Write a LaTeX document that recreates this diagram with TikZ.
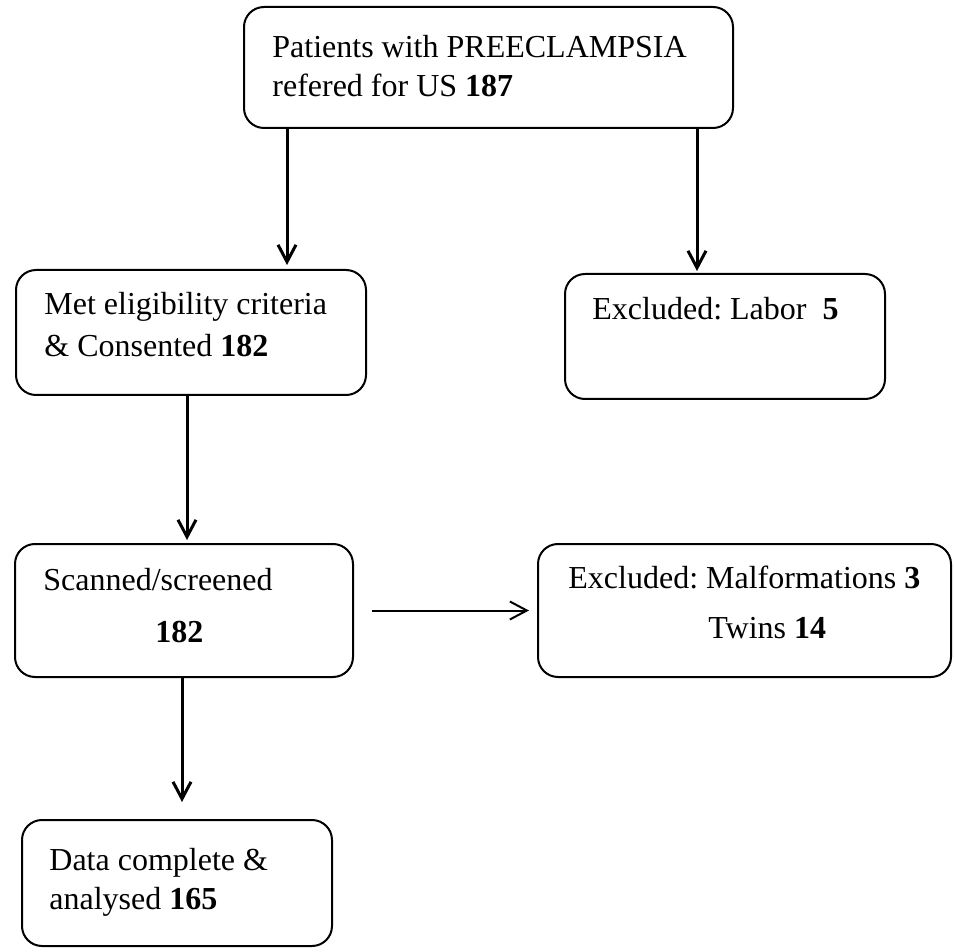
\documentclass[tikz,border=0pt]{standalone}
\usepackage{fontspec}
\setmainfont{Liberation Serif}
\frenchspacing
\usetikzlibrary{arrows.meta,fit}
\begin{document}
\begin{tikzpicture} [
  x=0.5pt, y=-0.5pt,
  box/.style= {draw,rounded corners=10pt,line width=1pt,inner sep=0},
  txt/.style= {anchor=base west,inner sep=0,font=\fontsize{16}{20}\selectfont},
  main arrow/.style= {-{Straight Barb[length=8.5pt,width=9pt]},line width=1.5pt},
  side arrow/.style= {-{Straight Barb[length=8.5pt,width=9pt]},line width=1pt},
]
\useasboundingbox (0,0) rectangle (954,952);

\node (pat) [box,fit={(244,7) (733,128)}] {};
\node (elig) [box,fit={(16,270) (366,395)}] {};
\node (labor) [box,fit={(565,274) (885,399)}] {};
\node (scan) [box,fit={(15,544) (353,677)}] {};
\node (malf) [box,fit={(538,544) (951,677)}] {};
\node (data) [box,fit={(22,820) (332,946)}] {};

\node (pat1) [txt] at (272,58) {Patients with PREECLAMPSIA};
\node (pat2) [txt] at (272,97) {refered for US \textbf{187}};
\node (elig1) [txt] at (44,315) {Met eligibility criteria};
\node (elig2) [txt] at (44,357) {\& Consented \textbf{182}};
\node (labor1) [txt] at (592,320) {Excluded: Labor\ \ \textbf{5}};
\node (scan1) [txt] at (43,590) {Scanned/screened};
\node (scan2) [txt] at (155,642) {\textbf{182}};
\node (malf1) [txt] at (568,588) {Excluded: Malformations \textbf{3}};
\node (malf2) [txt] at (708,638) {Twins \textbf{14}};
\node (data1) [txt] at (49,870) {Data complete \&};
\node (data2) [txt] at (49,909) {analysed \textbf{165}};

\coordinate (c1) at (287,0);
\coordinate (c2) at (697,0);
\coordinate (c3) at (187,0);
\coordinate (c5) at (182,0);
\draw [main arrow,shorten >=2pt] (pat.south -| c1) -- (elig.north -| c1);
\draw [main arrow,shorten >=1pt] (pat.south -| c2) -- (labor.north -| c2);
\draw [main arrow,shorten >=1.5pt] (elig.south -| c3) -- (scan.north -| c3);
\draw [side arrow,shorten <=9pt,shorten >=4pt] (scan.east) -- (malf.west);
\draw [main arrow,shorten >=8.5pt] (scan.south -| c5) -- (data.north -| c5);

\end{tikzpicture}
\end{document}
